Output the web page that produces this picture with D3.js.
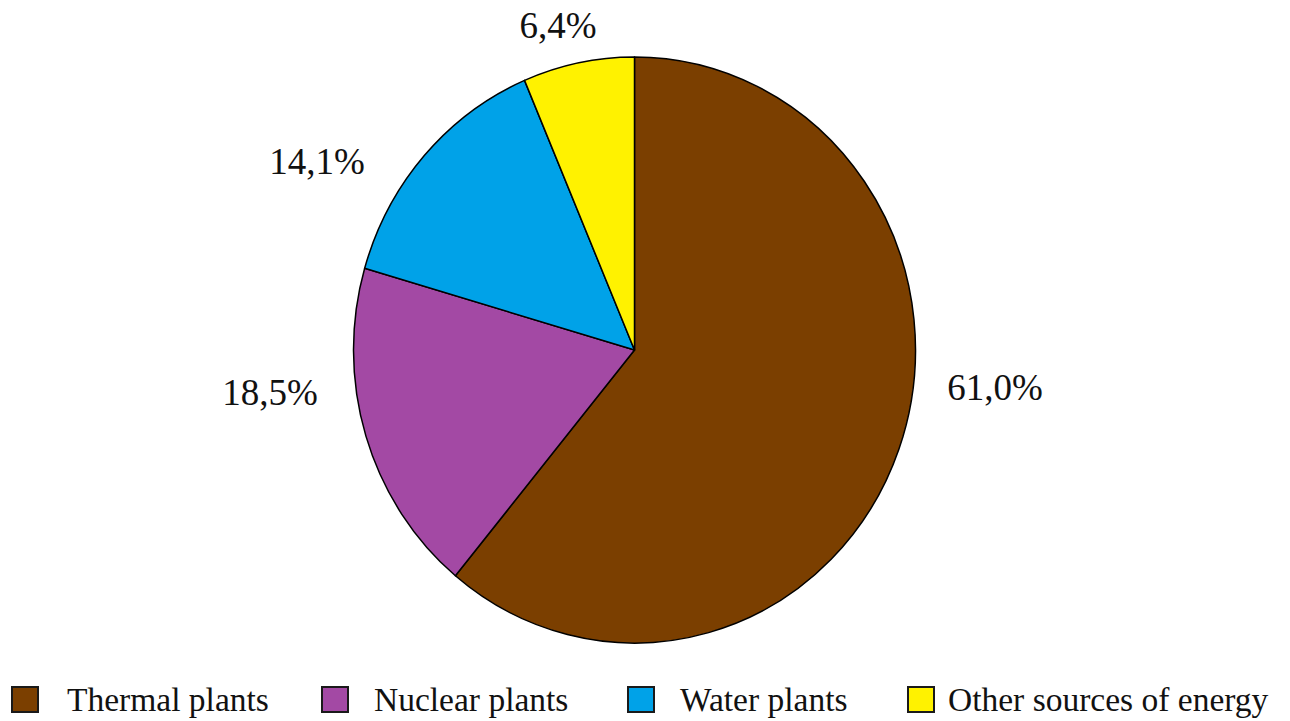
<!DOCTYPE html>
<html>
<head>
<meta charset="utf-8">
<script src="https://cdn.jsdelivr.net/npm/d3@7"></script>
<style>
  html, body { margin: 0; padding: 0; background: #fff; }
  svg text { font-family: "Liberation Serif", "Times New Roman", serif; fill: #111; }
</style>
</head>
<body>
<div id="chart"></div>
<script>
// data
var categories = ["Thermal plants", "Nuclear plants", "Water plants", "Other sources of energy"]
var shares = [61.0, 18.5, 14.1, 6.4]
var colors = ["#7b3f00", "#a349a4", "#00a2e8", "#fff200"]

// layout
var W = 1290, H = 721
var cx = 634.5, cy = 350, rx = 281, ry = 293
// label placement tweaks: degrees off the slice middle, and radius factor
var labelShift = [-14, 10.6, -11.9, -2.3]
var labelRadius = [1.29, 1.305, 1.30, 1.14]
var legendX = [12, 322, 628, 908]
var legendTextX = [67, 374, 680, 948]

var fmt = function(v){ return v.toFixed(1).replace(".", ",") + "%" }

var svg = d3.select("#chart").append("svg")
  .attr("width", W)
  .attr("height", H)

var pie = d3.pie().sort(null).value(function(d){ return d })
var arcs = pie(shares)

var arc = d3.arc().innerRadius(0).outerRadius(rx)

// pie is a bit taller than wide in the picture, so squash a circle
var g = svg.append("g")
  .attr("transform", "translate(" + cx + "," + cy + ") scale(1," + (ry / rx) + ")")

g.selectAll("path.slice")
  .data(arcs)
  .enter().append("path")
    .attr("class", "slice")
    .attr("d", arc)
    .attr("fill", function(d, i){ return colors[i] })
    .attr("stroke", "#000")
    .attr("stroke-width", 1.5)
    .attr("stroke-linejoin", "round")
    .attr("vector-effect", "non-scaling-stroke")

// percentage labels outside the slices
svg.selectAll("text.pct")
  .data(arcs)
  .enter().append("text")
    .attr("class", "pct")
    .attr("x", function(d, i){
      var a = (d.startAngle + d.endAngle) / 2 + labelShift[i] * Math.PI / 180
      return cx + Math.sin(a) * rx * labelRadius[i]
    })
    .attr("y", function(d, i){
      var a = (d.startAngle + d.endAngle) / 2 + labelShift[i] * Math.PI / 180
      return cy - Math.cos(a) * ry * labelRadius[i]
    })
    .attr("dy", "0.33em")
    .attr("text-anchor", "middle")
    .style("font-size", "37px")
    .text(function(d){ return fmt(d.data) })

// legend along the bottom
var legend = svg.selectAll("g.legend")
  .data(categories)
  .enter().append("g")
    .attr("class", "legend")

legend.append("rect")
  .attr("x", function(d, i){ return legendX[i] })
  .attr("y", 687)
  .attr("width", 26)
  .attr("height", 25)
  .attr("fill", function(d, i){ return colors[i] })
  .attr("stroke", "#1a1a1a")
  .attr("stroke-width", 2)

legend.append("text")
  .attr("x", function(d, i){ return legendTextX[i] })
  .attr("y", 711)
  .style("font-size", "33.5px")
  .text(function(d){ return d })
</script>
</body>
</html>
